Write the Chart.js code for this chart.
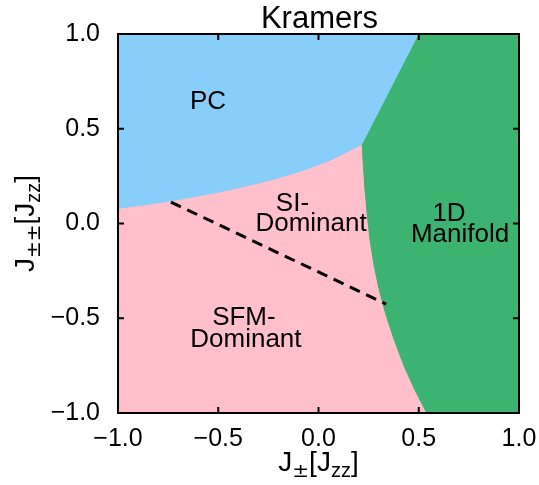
<!DOCTYPE html>
<html>
<head>
<meta charset="utf-8">
<script src="https://cdn.jsdelivr.net/npm/chart.js@4.4.1/dist/chart.umd.min.js"></script>
<style>
  html, body { margin: 0; padding: 0; background: #fff; }
  #wrap { width: 539px; height: 485px; }
</style>
</head>
<body>
<div id="wrap"><canvas id="phaseChart"></canvas></div>
<script>
// axis range + ticks
const axisMin = -1.0;
const axisMax = 1.0;
const tickValues = [-1.0, -0.5, 0.0, 0.5, 1.0];

// phase boundaries
const pcSfmX = [-1.0, -0.85, -0.7, -0.55, -0.4, -0.25, -0.1, 0.05, 0.218];
const pcSfmY = [0.080, 0.101, 0.126, 0.155, 0.188, 0.226, 0.272, 0.330, 0.418];
const pcManifoldX = [0.218, 0.5];
const pcManifoldY = [0.418, 1.0];
const manifoldSfmX = [0.218, 0.224, 0.232, 0.243, 0.257, 0.277, 0.303, 0.336, 0.378, 0.426, 0.481, 0.540];
const manifoldSfmY = [0.418, 0.30, 0.177, 0.05, -0.087, -0.22, -0.351, -0.48, -0.615, -0.75, -0.879, -1.0];

// SI / SFM crossover, dashed
const crossoverX = [-0.736, 0.337];
const crossoverY = [0.113, -0.425];

// region labels
const labelLines = ['PC', 'SI-', 'Dominant', '1D', 'Manifold', 'SFM-', 'Dominant'];
const labelX = [-0.551, -0.130, -0.037, 0.651, 0.706, -0.372, -0.362];
const labelY = [0.641, 0.103, -0.003, 0.050, -0.058, -0.499, -0.615];

const FONT = '"Liberation Sans", Arial, sans-serif';
const MATH_FONT = '"DejaVu Sans", sans-serif';
const COLORS = { pc: '#87CEFA', sfm: '#FFC0CB', manifold: '#3CB371' };

function zip(xs, ys) {
    return xs.map((x, i) => ({ x: x, y: ys[i] }));
}

// region polygons built from the boundaries
const pcRegion = [{ x: axisMin, y: axisMax }]
    .concat(zip(pcManifoldX, pcManifoldY).reverse())
    .concat(zip(pcSfmX, pcSfmY).reverse().slice(1));
const manifoldRegion = [{ x: pcManifoldX[1], y: pcManifoldY[1] }, { x: axisMax, y: axisMax }, { x: axisMax, y: axisMin }]
    .concat(zip(manifoldSfmX, manifoldSfmY).reverse());
const sfmRegion = zip(pcSfmX, pcSfmY)
    .concat(zip(manifoldSfmX, manifoldSfmY).slice(1))
    .concat([{ x: axisMin, y: axisMin }]);

function regionSet(data, color, order) {
    return {
        data: data,
        showLine: true,
        fill: 'shape',
        backgroundColor: color,
        borderColor: color,
        borderWidth: 1,
        pointRadius: 0,
        order: order
    };
}

function fmtTick(v) {
    return v.toFixed(1).replace('-', '\u2212');
}

// text with subscript pieces, centred on cx
function drawRich(ctx, parts, cx, baseY, size) {
    const subSize = Math.round(size * 0.72);
    const fontOf = p => (p.sub ? subSize : size) + 'px ' + (p.math ? MATH_FONT : FONT);
    let total = 0;
    parts.forEach(p => {
        ctx.font = fontOf(p);
        p.w = ctx.measureText(p.t).width;
        total += p.w;
    });
    let x = cx - total / 2;
    ctx.textAlign = 'left';
    ctx.textBaseline = 'alphabetic';
    parts.forEach(p => {
        ctx.font = fontOf(p);
        ctx.fillText(p.t, x, baseY + (p.sub ? size * 0.2 : 0));
        x += p.w;
    });
}

const framePlugin = {
    id: 'frame',
    afterDatasetsDraw(chart) {
        const ctx = chart.ctx;
        const a = chart.chartArea;
        const xs = chart.scales.x, ys = chart.scales.y;
        ctx.save();
        ctx.strokeStyle = '#000';
        ctx.lineWidth = 2;
        ctx.beginPath();
        tickValues.forEach(v => {
            const px = xs.getPixelForValue(v);
            ctx.moveTo(px, a.bottom); ctx.lineTo(px, a.bottom - 6);
            ctx.moveTo(px, a.top); ctx.lineTo(px, a.top + 6);
            const py = ys.getPixelForValue(v);
            ctx.moveTo(a.left, py); ctx.lineTo(a.left + 6, py);
            ctx.moveTo(a.right, py); ctx.lineTo(a.right - 6, py);
        });
        ctx.stroke();
        ctx.strokeRect(a.left, a.top, a.right - a.left, a.bottom - a.top);
        ctx.restore();
    },
    afterDraw(chart) {
        const ctx = chart.ctx;
        const a = chart.chartArea;
        const xs = chart.scales.x, ys = chart.scales.y;
        ctx.save();
        ctx.fillStyle = '#000';

        // region names
        ctx.font = '26px ' + FONT;
        ctx.textAlign = 'center';
        ctx.textBaseline = 'middle';
        labelLines.forEach((t, i) => {
            ctx.fillText(t, xs.getPixelForValue(labelX[i]), ys.getPixelForValue(labelY[i]));
        });

        // title
        ctx.font = '31px ' + FONT;
        ctx.textBaseline = 'alphabetic';
        ctx.fillText('Kramers', (a.left + a.right) / 2 + 1, 28);

        // axis titles
        drawRich(ctx, [{ t: 'J' }, { t: '\u00b1', sub: true, math: true }, { t: '[J' }, { t: 'zz', sub: true }, { t: ']' }],
            (a.left + a.right) / 2, 471, 28);
        ctx.translate(34, (a.top + a.bottom) / 2);
        ctx.rotate(-Math.PI / 2);
        drawRich(ctx, [{ t: 'J' }, { t: '\u00b1\u00b1', sub: true, math: true }, { t: '[J' }, { t: 'zz', sub: true }, { t: ']' }],
            0, 0, 28);
        ctx.restore();
    }
};

const tickFont = { family: FONT, size: 25 };

new Chart(document.getElementById('phaseChart'), {
    type: 'scatter',
    data: {
        datasets: [
            {
                data: zip(crossoverX, crossoverY),
                showLine: true,
                fill: false,
                borderColor: '#000',
                borderWidth: 3,
                borderDash: [11, 7],
                pointRadius: 0,
                order: 0
            },
            regionSet(manifoldRegion, COLORS.manifold, 1),
            regionSet(pcRegion, COLORS.pc, 2),
            regionSet(sfmRegion, COLORS.sfm, 3)
        ]
    },
    options: {
        responsive: true,
        maintainAspectRatio: false,
        animation: false,
        events: [],
        layout: { padding: { top: 34, right: 20, left: 0, bottom: 0 } },
        plugins: { legend: { display: false }, tooltip: { enabled: false } },
        scales: {
            x: {
                type: 'linear',
                min: axisMin,
                max: axisMax,
                afterBuildTicks: s => { s.ticks = tickValues.map(v => ({ value: v })); },
                afterFit: s => { s.height = 72; s.paddingLeft = 0; s.paddingRight = 0; },
                grid: { display: false },
                border: { display: false },
                ticks: { color: '#000', font: tickFont, padding: 3, maxRotation: 0, autoSkip: false, callback: fmtTick }
            },
            y: {
                type: 'linear',
                min: axisMin,
                max: axisMax,
                afterBuildTicks: s => { s.ticks = tickValues.map(v => ({ value: v })); },
                afterFit: s => { s.width = 118; s.paddingTop = 0; s.paddingBottom = 0; },
                grid: { display: false },
                border: { display: false },
                ticks: { color: '#000', font: tickFont, padding: 10, autoSkip: false, callback: fmtTick }
            }
        }
    },
    plugins: [framePlugin]
});
</script>
</body>
</html>
